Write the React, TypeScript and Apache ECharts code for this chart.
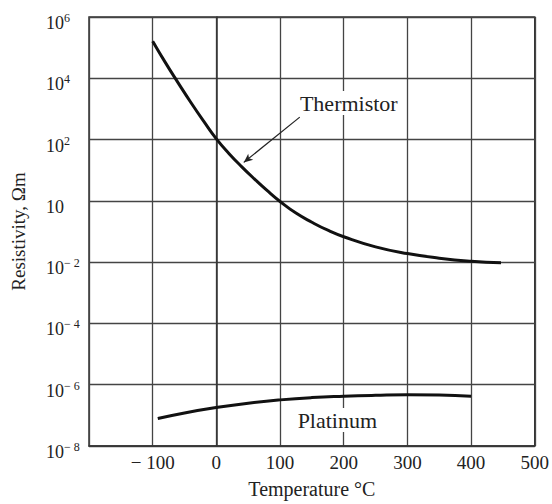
import React, { useEffect, useRef } from 'react';
import * as echarts from 'echarts';

// Thermistor: temperature (°C) and resistivity (Ωm)
const thermistorTemp = [-100, -80, -60, -40, -20, 0, 20, 40, 60, 80, 100, 125, 150, 175, 200, 250, 300, 350, 400, 447];
const thermistorRes = [1.62e5, 3.24e4, 7.1e3, 1.62e3, 398, 105, 34.7, 12.9, 5.13, 2.14, 0.955, 0.398, 0.2, 0.11, 0.0676, 0.0316, 0.019, 0.0135, 0.0107, 0.0095];

// Platinum: temperature (°C) and resistivity (Ωm)
const platinumTemp = [-92, -50, 0, 50, 100, 150, 200, 250, 300, 350, 400];
const platinumRes = [7.9e-8, 1.2e-7, 1.8e-7, 2.5e-7, 3.2e-7, 3.8e-7, 4.2e-7, 4.5e-7, 4.7e-7, 4.6e-7, 4.2e-7];

// Tick labels
const xTickValues = [-200, -100, 0, 100, 200, 300, 400, 500];
const xTickLabels = ['', '\u2212 100', '0', '100', '200', '300', '400', '500'];
const yTickExponents = [6, 4, 2, 0, -2, -4, -6, -8];
const yTickBase = ['10', '10', '10', '10', '10', '10', '10', '10'];
const yTickSup = ['6', '4', '2', '', '\u2212 2', '\u2212 4', '\u2212 6', '\u2212 8'];

// Annotations (data coordinates)
const thermistorLabelAt = [208, 1550];
const platinumLabelAt = [190, 7.0e-8];
const arrowFrom = [131, 540];
const arrowTo = [43, 18];

const FONT = 'Liberation Serif';
const INK = '#222';

export default function App() {
  const ref = useRef<HTMLDivElement>(null);
  useEffect(() => {
    if (!ref.current) return;
    const chart = echarts.init(ref.current, undefined, { renderer: 'svg' });
    const thermData = thermistorTemp.map((t, i) => [t, thermistorRes[i]]);
    const platData = platinumTemp.map((t, i) => [t, platinumRes[i]]);
    const textLabel = (txt: string) => ({
      show: true,
      position: 'inside',
      formatter: txt,
      fontFamily: FONT,
      fontSize: 22,
      color: INK,
      backgroundColor: '#fff',
      padding: [1, 3, 1, 3],
    });
    chart.setOption({
      animation: false,
      backgroundColor: '#fff',
      textStyle: { fontFamily: FONT, color: INK },
      grid: {
        left: 89,
        top: 17,
        width: 448,
        height: 432,
        show: true,
        borderColor: '#333',
        borderWidth: 1.5,
        backgroundColor: 'transparent',
      },
      xAxis: {
        type: 'value',
        min: -200,
        max: 500,
        interval: 100,
        name: 'Temperature \u00B0C',
        nameLocation: 'middle',
        nameGap: 33,
        nameTextStyle: { fontFamily: FONT, fontSize: 20, color: INK },
        axisLine: { show: true, lineStyle: { color: '#333', width: 1.5 } },
        axisTick: { show: false },
        splitLine: { show: true, lineStyle: { color: '#444', width: 1.3 } },
        axisLabel: {
          fontFamily: FONT,
          fontSize: 19,
          color: INK,
          margin: 7,
          formatter: (v: number) => {
            const i = xTickValues.indexOf(Math.round(v));
            return i >= 0 ? xTickLabels[i] : '';
          },
        },
      },
      yAxis: {
        type: 'log',
        logBase: 100,
        min: 1e-8,
        max: 1e6,
        name: 'Resistivity, \u03A9m',
        nameLocation: 'middle',
        nameGap: 61,
        nameTextStyle: { fontFamily: FONT, fontSize: 19, color: INK },
        axisLine: { show: true, lineStyle: { color: '#333', width: 1.5 } },
        axisTick: { show: false },
        splitLine: { show: true, lineStyle: { color: '#444', width: 1.3 } },
        axisLabel: {
          align: 'left',
          margin: 43,
          padding: [12, 0, 0, 0],
          formatter: (v: number) => {
            const e = Math.round(Math.log10(v));
            const i = yTickExponents.indexOf(e);
            if (i < 0) return '';
            return yTickSup[i]
              ? `{b|${yTickBase[i]}}{s|${yTickSup[i]}}`
              : `{b|${yTickBase[i]}}`;
          },
          rich: {
            b: { fontFamily: FONT, fontSize: 18, color: INK, lineHeight: 22 },
            s: { fontFamily: FONT, fontSize: 12, color: INK, lineHeight: 12, verticalAlign: 'top' },
          },
        },
      },
      series: [
        {
          type: 'line',
          name: 'Thermistor',
          data: thermData,
          smooth: 0.5,
          showSymbol: false,
          symbol: 'none',
          lineStyle: { color: '#111', width: 3 },
          z: 5,
          markLine: {
            silent: true,
            symbol: ['none', 'arrow'],
            symbolSize: [6, 9],
            lineStyle: { color: '#222', width: 1.2, type: 'solid' },
            label: { show: false },
            data: [[{ coord: arrowFrom }, { coord: arrowTo }]],
          },
          markPoint: {
            silent: true,
            symbol: 'circle',
            symbolSize: 0,
            label: textLabel('Thermistor'),
            data: [{ coord: thermistorLabelAt }],
          },
        },
        {
          type: 'line',
          name: 'Platinum',
          data: platData,
          smooth: 0.5,
          showSymbol: false,
          symbol: 'none',
          lineStyle: { color: '#111', width: 3 },
          z: 5,
          markPoint: {
            silent: true,
            symbol: 'circle',
            symbolSize: 0,
            label: textLabel('Platinum'),
            data: [{ coord: platinumLabelAt }],
          },
        },
      ],
    });
    return () => chart.dispose();
  }, []);
  return (
    <div
      ref={ref}
      style={{ position: 'absolute', left: 0, top: 0, width: 552, height: 504 }}
    />
  );
}
